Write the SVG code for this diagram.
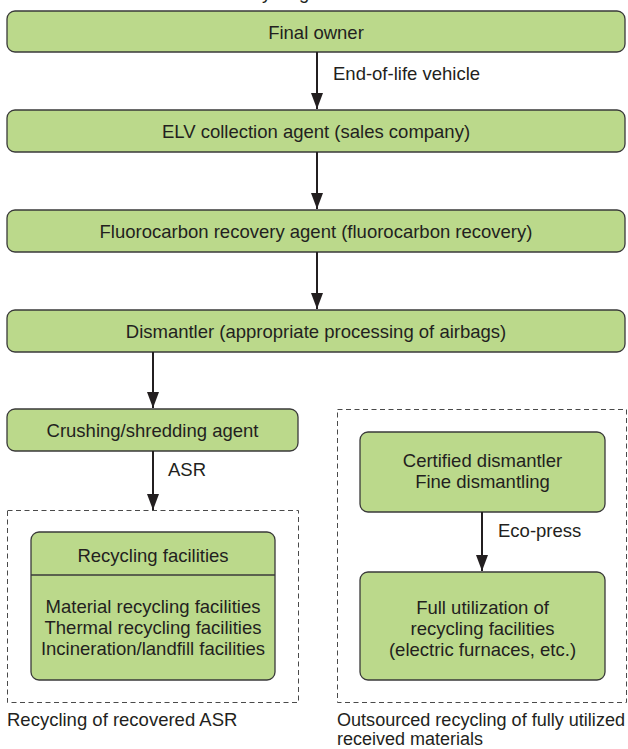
<svg xmlns="http://www.w3.org/2000/svg" width="628" height="749" viewBox="0 0 628 749">
  <style>
    .box { fill: #bbd98b; stroke: #3a3a3a; stroke-width: 1.3; }
    .frame { fill: none; stroke: #4a4a4a; stroke-width: 1; stroke-dasharray: 5 3.5; }
    .edge { stroke: #231f20; stroke-width: 2; fill: none; }
    text { font-family: "Liberation Sans", Arial, sans-serif; font-size: 18.5px; fill: #231f20; }
    .c { text-anchor: middle; }
    .note { font-size: 18px; }
  </style>
  <defs>
    <marker id="head" markerWidth="16" markerHeight="12" refX="16" refY="6" orient="auto" markerUnits="userSpaceOnUse" viewBox="0 0 16 12">
      <path d="M0 0 L16 6 L0 12 Z" fill="#231f20"/>
    </marker>
  </defs>
  <rect width="628" height="749" fill="#ffffff"/>

  <!-- title, mostly above the sheet edge -->
  <text x="229" y="-1">Recycling</text>

  <!-- dashed grouping frames -->
  <g id="group-asr">
    <rect class="frame" x="7.5" y="510.5" width="291" height="192"/>
    <text x="7" y="726">Recycling of recovered ASR</text>
  </g>
  <g id="group-outsourced">
    <rect class="frame" x="337.5" y="409.5" width="289" height="293"/>
    <text class="note" x="337" y="726" textLength="288" lengthAdjust="spacingAndGlyphs">Outsourced recycling of fully utilized</text>
    <text class="note" x="337" y="745">received materials</text>
  </g>

  <g id="final-owner">
    <rect class="box" x="7" y="11" width="618" height="41" rx="8"/>
    <text class="c" x="316" y="38.5">Final owner</text>
  </g>
  <g id="elv-collection">
    <rect class="box" x="7" y="110" width="618" height="42" rx="8"/>
    <text class="c" x="316" y="138">ELV collection agent (sales company)</text>
  </g>
  <g id="fluorocarbon">
    <rect class="box" x="7" y="210" width="618" height="42" rx="8"/>
    <text class="c" x="316" y="238">Fluorocarbon recovery agent (fluorocarbon recovery)</text>
  </g>
  <g id="dismantler">
    <rect class="box" x="7" y="310" width="618" height="42" rx="8"/>
    <text class="c" x="316" y="338">Dismantler (appropriate processing of airbags)</text>
  </g>
  <g id="crushing">
    <rect class="box" x="7" y="409" width="291" height="42" rx="8"/>
    <text class="c" x="152.5" y="437">Crushing/shredding agent</text>
  </g>
  <g id="recycling-facilities">
    <rect class="box" x="31" y="532" width="244" height="148" rx="8"/>
    <line x1="31" y1="575" x2="275" y2="575" stroke="#3a3a3a" stroke-width="1.3"/>
    <text class="c" x="153" y="562">Recycling facilities</text>
    <text class="c" x="153" y="613">Material recycling facilities</text>
    <text class="c" x="153" y="634">Thermal recycling facilities</text>
    <text class="c" x="153" y="655">Incineration/landfill facilities</text>
  </g>
  <g id="certified-dismantler">
    <rect class="box" x="360" y="432" width="245" height="80" rx="8"/>
    <text class="c" x="482.5" y="467">Certified dismantler</text>
    <text class="c" x="482.5" y="488">Fine dismantling</text>
  </g>
  <g id="full-utilization">
    <rect class="box" x="360" y="572" width="245" height="108" rx="8"/>
    <text class="c" x="482.5" y="614">Full utilization of</text>
    <text class="c" x="482.5" y="635">recycling facilities</text>
    <text class="c" x="482.5" y="656">(electric furnaces, etc.)</text>
  </g>

  <g id="connectors">
    <line class="edge" x1="317" y1="52" x2="317" y2="109" marker-end="url(#head)"/>
    <text x="333" y="80">End-of-life vehicle</text>
    <line class="edge" x1="317" y1="152" x2="317" y2="209" marker-end="url(#head)"/>
    <line class="edge" x1="317" y1="252" x2="317" y2="309" marker-end="url(#head)"/>
    <line class="edge" x1="153" y1="352" x2="153" y2="408" marker-end="url(#head)"/>
    <line class="edge" x1="153" y1="451" x2="153" y2="510" marker-end="url(#head)"/>
    <text x="168" y="476">ASR</text>
    <line class="edge" x1="482" y1="512" x2="482" y2="571" marker-end="url(#head)"/>
    <text x="498" y="537">Eco-press</text>
  </g>
</svg>
